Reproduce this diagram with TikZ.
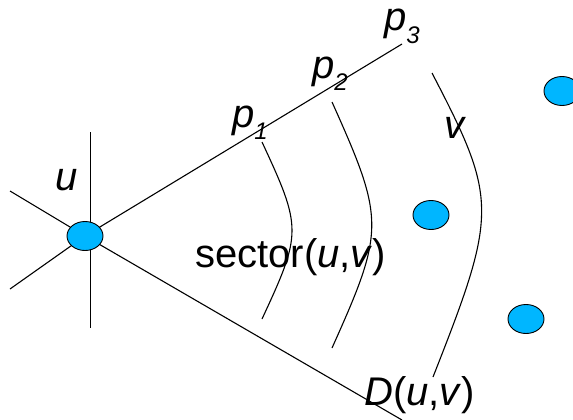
\documentclass[tikz,border=0pt]{standalone}
\usepackage{fontspec}
\setmainfont{Liberation Sans}
\usetikzlibrary{shapes.geometric,backgrounds}
\definecolor{dotBlue}{HTML}{00B6FF}
% p with a slanted, lowered index
\newcommand{\pidx}[1]{\textit{p}\raisebox{-13pt}{\fontsize{24}{24}\selectfont\itshape #1}}

\begin{document}
\begin{tikzpicture}[x=1pt,y=-1pt,
  dot/.style={draw,ellipse,fill=dotBlue,minimum width=36pt,minimum height=29pt,inner sep=0pt,line width=0.9pt},
  ray/.style={line width=1.1pt},
  bound/.style={line width=1.1pt},
  lbl/.style={anchor=base west,inner sep=0pt,font=\fontsize{40}{48}\selectfont}]
  \useasboundingbox (0,0) rectangle (573,420);
  \node[dot] (u) at (85,236) {};
  \node[dot] (w1) at (431,215) {};
  \node[dot] (w2) at (526,319) {};
  \node[dot] (w3) at (562,91) {};
  \coordinate (top) at (90.5,132);
  \coordinate (bot) at (90.5,328);
  \coordinate (ul) at (10,191);
  \coordinate (ll) at (10,289);
  \coordinate (ur) at (402,44);
  \coordinate (lr) at (402,420);
  \begin{scope}[on background layer]
    \draw[line width=1pt] (top) -- (bot);
    \foreach \e in {ul,ll,ur,lr}{\draw[ray] (u.center) -- (\e);}
  \end{scope}
  \draw[bound] (262,142) .. controls (302,228) and (302,233) .. (262,319);
  \draw[bound] (332,102) .. controls (385,220) and (385,230) .. (332,348);
  \draw[bound] (432,73) .. controls (498,200) and (498,212) .. (433,377);
  \node[lbl] (lu) at (55,190) {\textit{u}};
  \node[lbl] (lp1) at (232,127) {\pidx{1}};
  \node[lbl] (lp2) at (312,78) {\pidx{2}};
  \node[lbl] (lp3) at (384,31) {\pidx{3}};
  \node[lbl] (lv) at (444,138) {\textit{v}};
  \node[lbl] (lsec) at (195,267) {sector(\textit{u},\textit{v})};
  \node[lbl] (ld) at (364,405) {\textit{D}(\textit{u},\textit{v})};
\end{tikzpicture}
\end{document}
